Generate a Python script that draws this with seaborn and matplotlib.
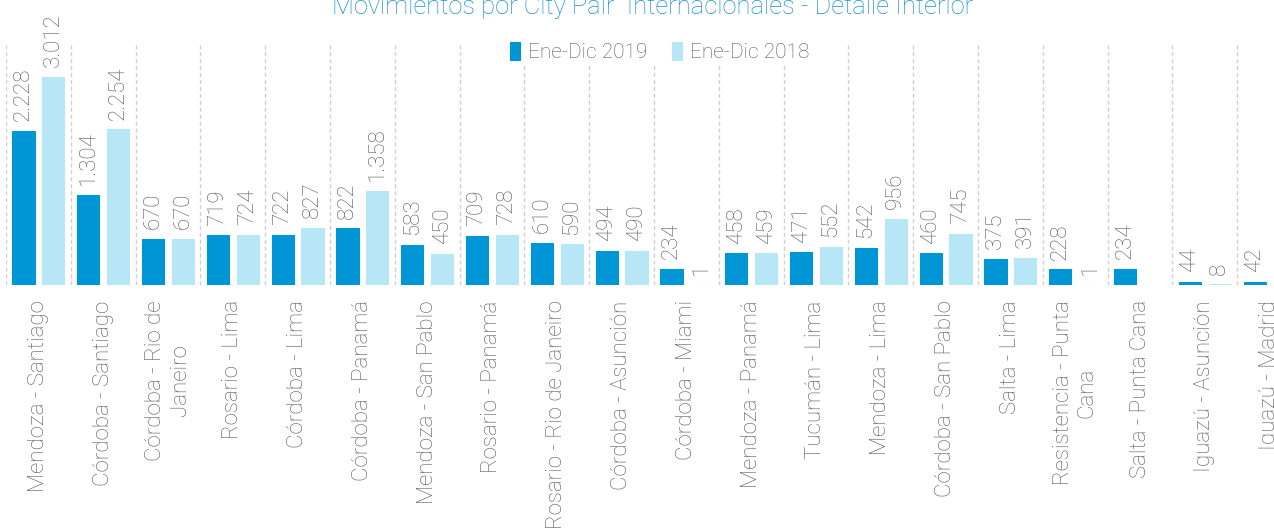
import matplotlib
matplotlib.use("Agg")
import matplotlib.pyplot as plt
import numpy as np
import pandas as pd
import seaborn as sns

# datos
pares = [
    "Mendoza - Santiago", "Córdoba - Santiago", "Córdoba - Rio de Janeiro",
    "Rosario - Lima", "Córdoba - Lima", "Córdoba - Panamá", "Mendoza - San Pablo",
    "Rosario - Panamá", "Rosario - Rio de Janeiro", "Córdoba - Asunción",
    "Córdoba - Miami", "Mendoza - Panamá", "Tucumán - Lima", "Mendoza - Lima",
    "Córdoba - San Pablo", "Salta - Lima", "Resistencia - Punta Cana",
    "Salta - Punta Cana", "Iguazú - Asunción", "Iguazú - Madrid",
]
etiquetas = [
    "Mendoza - Santiago", "Córdoba - Santiago", "Córdoba - Rio de\nJaneiro",
    "Rosario - Lima", "Córdoba - Lima", "Córdoba - Panamá", "Mendoza - San Pablo",
    "Rosario - Panamá", "Rosario - Rio de Janeiro", "Córdoba - Asunción",
    "Córdoba - Miami", "Mendoza - Panamá", "Tucumán - Lima", "Mendoza - Lima",
    "Córdoba - San Pablo", "Salta - Lima", "Resistencia - Punta\nCana",
    "Salta - Punta Cana", "Iguazú - Asunción", "Iguazú - Madrid",
]
movs_2019 = [2228, 1304, 670, 719, 722, 822, 583, 709, 610, 494,
             234, 458, 471, 542, 460, 375, 228, 234, 44, 42]
movs_2018 = [3012, 2254, 670, 724, 827, 1358, 450, 728, 590, 490,
             1, 459, 552, 956, 745, 391, 1, np.nan, 8, np.nan]
periodos = ["Ene-Dic 2019", "Ene-Dic 2018"]

AZUL = "#0096d6"
CELESTE = "#b7e6f6"
GRIS = "#595959"

sns.set_theme(style="white")
plt.rcParams["font.family"] = ["Roboto", "DejaVu Sans"]

df = pd.DataFrame({
    "par": pares * 2,
    "periodo": [periodos[0]] * len(pares) + [periodos[1]] * len(pares),
    "movs": movs_2019 + movs_2018,
})

fig = plt.figure(figsize=(12.74, 5.30), dpi=100)
ax = fig.add_axes([6 / 1274, 245 / 530, 1296 / 1274, 240 / 530])

sns.barplot(data=df, x="par", y="movs", hue="periodo", order=pares,
            hue_order=periodos, palette=[AZUL, CELESTE], width=0.92, gap=0.25,
            errorbar=None, saturation=1, ax=ax)

# borde del mismo color para que las barras de valor 1 se vean como línea
for p in ax.patches:
    p.set_edgecolor(p.get_facecolor())
    p.set_linewidth(0.8)

# separadores punteados entre categorías
for b in np.arange(len(pares) + 1) - 0.5:
    ax.axvline(b, color="#d0d0d0", linestyle=(0, (3, 2)), linewidth=1, zorder=0)

for cont in ax.containers:
    labels = ["" if np.isnan(v) else f"{int(v):,}".replace(",", ".") for v in cont.datavalues]
    ax.bar_label(cont, labels=labels, rotation=90, padding=7, fontsize=16,
                 color=GRIS, fontweight="light")

ax.set_xlim(-0.5, len(pares) - 0.5)
ax.set_ylim(0, 3475)
ax.set_yticks([])
ax.set_xlabel("")
ax.set_ylabel("")
ax.set_xticks(range(len(pares)))
ax.set_xticklabels(etiquetas, rotation=90, ha="center", va="top",
                   multialignment="center", fontsize=16, color=GRIS,
                   fontweight="light")
ax.tick_params(axis="x", length=0, pad=11)
for s in ax.spines.values():
    s.set_visible(False)

leg = ax.legend(loc="center", bbox_to_anchor=(660 / 1274, 1 - 52 / 530),
                bbox_transform=fig.transFigure, ncol=2, frameon=True,
                handlelength=0.45, handleheight=1.0, handletextpad=0.4,
                columnspacing=1.2, fontsize=15, borderpad=0.2)
leg.get_frame().set_facecolor("white")
leg.get_frame().set_edgecolor("none")
leg.get_frame().set_alpha(1)
for t in leg.get_texts():
    t.set_color(GRIS)
    t.set_fontweight("light")

fig.text(653 / 1274, 1 - 14 / 530,
         "Movimientos por City Pair  Internacionales - Detalle Interior",
         ha="center", va="baseline", fontsize=18.4, color="#1a8fd6",
         fontweight="light")

fig.savefig("out.png", dpi=100)
